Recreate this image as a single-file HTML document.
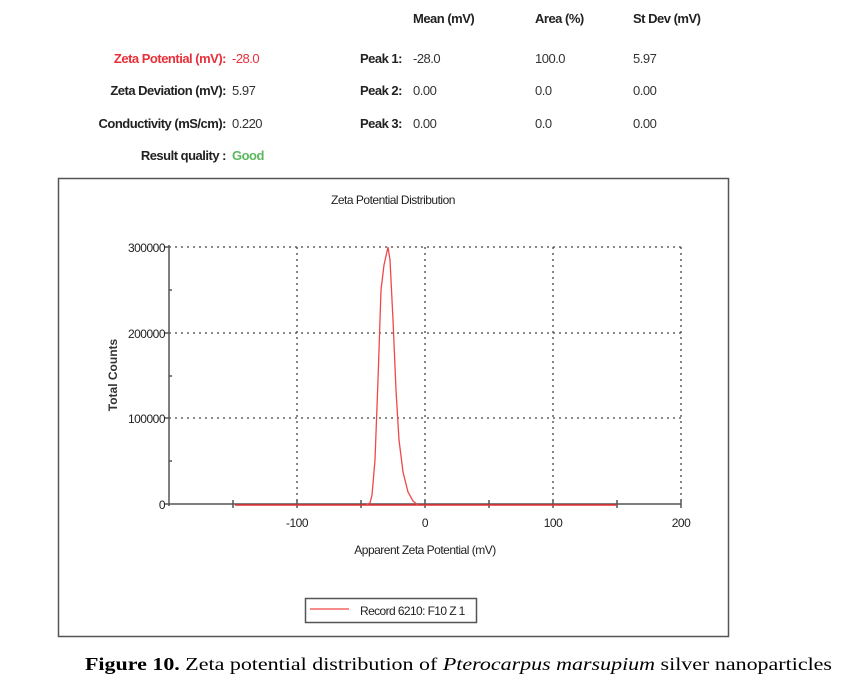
<!DOCTYPE html>
<html><head><style>
body{margin:0;background:#fff;}
svg{display:block;}
text{font-family:"Liberation Sans",sans-serif;}
text.cap{font-family:"Liberation Serif",serif;}
</style></head><body>
<svg width="868" height="680" viewBox="0 0 868 680" xmlns="http://www.w3.org/2000/svg">
<g font-size="13" style="letter-spacing:-0.5px">
<text x="413" y="23" font-weight="bold" fill="#222">Mean (mV)</text>
<text x="535" y="23" font-weight="bold" fill="#222">Area (%)</text>
<text x="633" y="23" font-weight="bold" fill="#222">St Dev (mV)</text>
<text x="226" y="63" text-anchor="end" font-weight="bold" fill="#e8303a">Zeta Potential (mV):</text>
<text x="232" y="63" fill="#e8303a">-28.0</text>
<text x="226" y="95" text-anchor="end" font-weight="bold" fill="#222">Zeta Deviation (mV):</text>
<text x="232" y="95" fill="#333">5.97</text>
<text x="226" y="128" text-anchor="end" font-weight="bold" fill="#222">Conductivity (mS/cm):</text>
<text x="232" y="128" fill="#333">0.220</text>
<text x="226" y="160" text-anchor="end" font-weight="bold" fill="#222">Result quality :</text>
<text x="232" y="160" font-weight="bold" fill="#5cb85c">Good</text>
<text x="402" y="63" text-anchor="end" font-weight="bold" fill="#222">Peak 1:</text>
<text x="402" y="95" text-anchor="end" font-weight="bold" fill="#222">Peak 2:</text>
<text x="402" y="128" text-anchor="end" font-weight="bold" fill="#222">Peak 3:</text>
<text x="413" y="63" fill="#333">-28.0</text>
<text x="413" y="95" fill="#333">0.00</text>
<text x="413" y="128" fill="#333">0.00</text>
<text x="535" y="63" fill="#333">100.0</text>
<text x="535" y="95" fill="#333">0.0</text>
<text x="535" y="128" fill="#333">0.0</text>
<text x="633" y="63" fill="#333">5.97</text>
<text x="633" y="95" fill="#333">0.00</text>
<text x="633" y="128" fill="#333">0.00</text>
</g>
<rect x="58.5" y="178.5" width="670" height="458" fill="none" stroke="#555" stroke-width="1.5"/>
<text x="393" y="204" text-anchor="middle" font-size="12" fill="#222" style="letter-spacing:-0.5px">Zeta Potential Distribution</text>
<g stroke="#444" stroke-width="1.3" stroke-dasharray="2,4" fill="none">
<line x1="169" y1="247" x2="681" y2="247"/>
<line x1="169" y1="333" x2="681" y2="333"/>
<line x1="169" y1="418" x2="681" y2="418"/>
<line x1="297" y1="247" x2="297" y2="504"/>
<line x1="425" y1="247" x2="425" y2="504"/>
<line x1="553" y1="247" x2="553" y2="504"/>
<line x1="681" y1="247" x2="681" y2="504"/>
</g>
<g stroke="#555" stroke-width="1.5">
<line x1="169" y1="245" x2="169" y2="506"/>
<line x1="169" y1="504" x2="681" y2="504"/>
<line x1="165" y1="247" x2="169" y2="247"/>
<line x1="165" y1="333" x2="169" y2="333"/>
<line x1="165" y1="418" x2="169" y2="418"/>
<line x1="165" y1="504" x2="169" y2="504"/>
<line x1="169" y1="290" x2="172" y2="290"/>
<line x1="169" y1="376" x2="172" y2="376"/>
<line x1="169" y1="461" x2="172" y2="461"/>
<line x1="233" y1="500" x2="233" y2="508"/>
<line x1="297" y1="500" x2="297" y2="508"/>
<line x1="361" y1="500" x2="361" y2="508"/>
<line x1="425" y1="500" x2="425" y2="508"/>
<line x1="489" y1="500" x2="489" y2="508"/>
<line x1="553" y1="500" x2="553" y2="508"/>
<line x1="617" y1="500" x2="617" y2="508"/>
<line x1="681" y1="500" x2="681" y2="508"/>
</g>
<line x1="235" y1="505" x2="617" y2="505" stroke="#e83030" stroke-width="1.5"/>
<path d="M366,505 L370,503 L372,495 L375,460 L378,380 L381,290 L384,265 L388,247 L390,260 L393,320 L396,390 L399,440 L403,472 L408,492 L413,501 L418,505" fill="none" stroke="#f04848" stroke-width="1.3"/>
<g font-size="12" fill="#222" text-anchor="end" style="letter-spacing:-0.5px">
<text x="165" y="252">300000</text>
<text x="165" y="338">200000</text>
<text x="165" y="423">100000</text>
<text x="165" y="509">0</text>
</g>
<g font-size="12" fill="#222" text-anchor="middle" style="letter-spacing:-0.5px">
<text x="297" y="527">-100</text>
<text x="425" y="527">0</text>
<text x="553" y="527">100</text>
<text x="681" y="527">200</text>
<text x="425" y="554">Apparent Zeta Potential (mV)</text>
</g>
<text transform="translate(117,375) rotate(-90)" text-anchor="middle" font-size="12" font-weight="bold" fill="#333">Total Counts</text>
<rect x="305.5" y="598.5" width="171" height="24" fill="none" stroke="#555" stroke-width="1.5"/>
<line x1="310" y1="609" x2="349" y2="609" stroke="#f04848" stroke-width="1.3"/>
<text x="360" y="615" font-size="12" fill="#222" style="letter-spacing:-0.6px">Record 6210: F10 Z 1</text>
<text class="cap" x="85" y="670" font-size="18" fill="#000" textLength="747" lengthAdjust="spacingAndGlyphs"><tspan font-weight="bold">Figure 10.</tspan> Zeta potential distribution of <tspan font-style="italic">Pterocarpus marsupium</tspan> silver nanoparticles</text>
</svg>
</body></html>
